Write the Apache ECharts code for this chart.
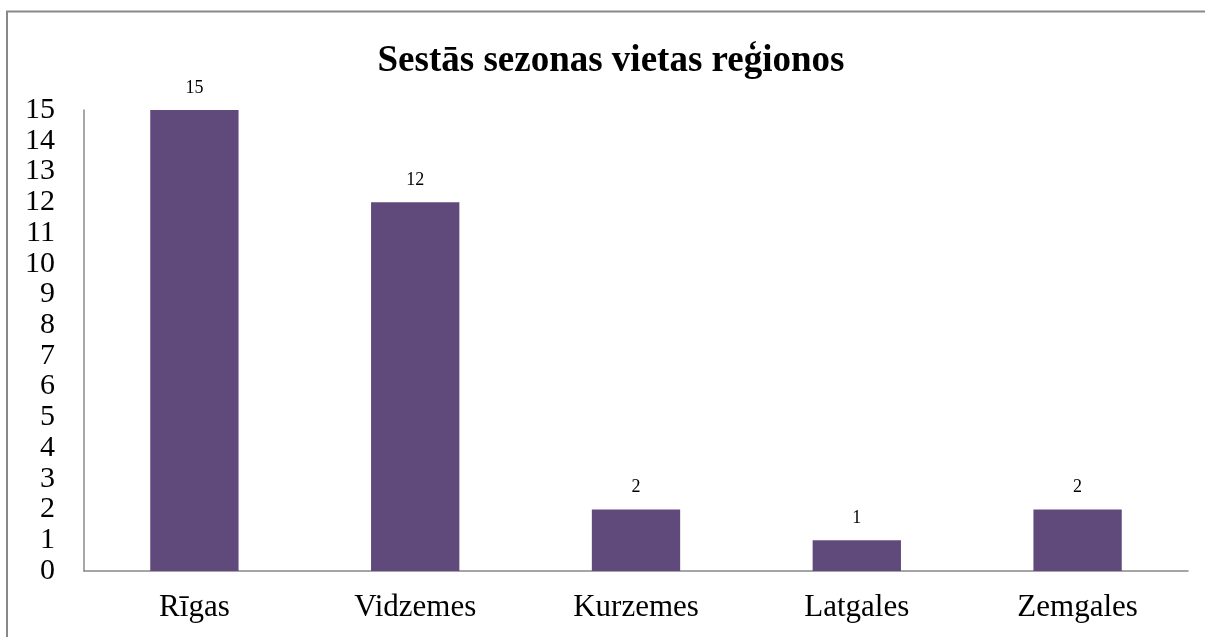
<!DOCTYPE html>
<html>
<head>
<meta charset="utf-8">
<script src="https://cdn.jsdelivr.net/npm/echarts@6/dist/echarts.min.js"></script>
<style>
html,body{margin:0;padding:0;background:#fff;}
#chart{width:1205px;height:637px;}
</style>
</head>
<body>
<div id="chart"></div>
<script>
const titleText = "Sestās sezonas vietas reģionos";
const categories = ["Rīgas", "Vidzemes", "Kurzemes", "Latgales", "Zemgales"];
const values = [15, 12, 2, 1, 2];

const chart = echarts.init(document.getElementById('chart'));
const serif = '"Liberation Serif", "Times New Roman", serif';
chart.setOption({
  animation: false,
  backgroundColor: '#fff',
  title: {
    text: titleText,
    left: 606, top: 38, textAlign: 'center',
    textStyle: { fontFamily: serif, fontWeight: 'bold', fontSize: 37, color: '#000' }
  },
  graphic: [{
    type: 'rect', silent: true,
    shape: { x: 7, y: 11.5, width: 1230, height: 660 },
    style: { fill: 'none', stroke: '#888', lineWidth: 2 }
  }],
  grid: { left: 84, right: 17, top: 110, bottom: 66, containLabel: false },
  xAxis: {
    type: 'category', data: categories,
    axisLine: { lineStyle: { color: '#888', width: 1.5 } },
    axisTick: { show: false },
    axisLabel: { fontFamily: serif, fontSize: 31, color: '#000', margin: 21 }
  },
  yAxis: {
    type: 'value', min: 0, max: 15, interval: 1,
    splitLine: { show: false },
    axisLine: { show: true, lineStyle: { color: '#888', width: 1.5 } },
    axisTick: { show: false },
    axisLabel: { fontFamily: serif, fontSize: 30, color: '#000', margin: 29 }
  },
  series: [{
    type: 'bar', data: values, barWidth: '40%',
    itemStyle: { color: '#604a7b' },
    label: { show: true, position: 'top', distance: 13, fontFamily: serif, fontSize: 18, color: '#000' }
  }]
});
</script>
</body>
</html>
